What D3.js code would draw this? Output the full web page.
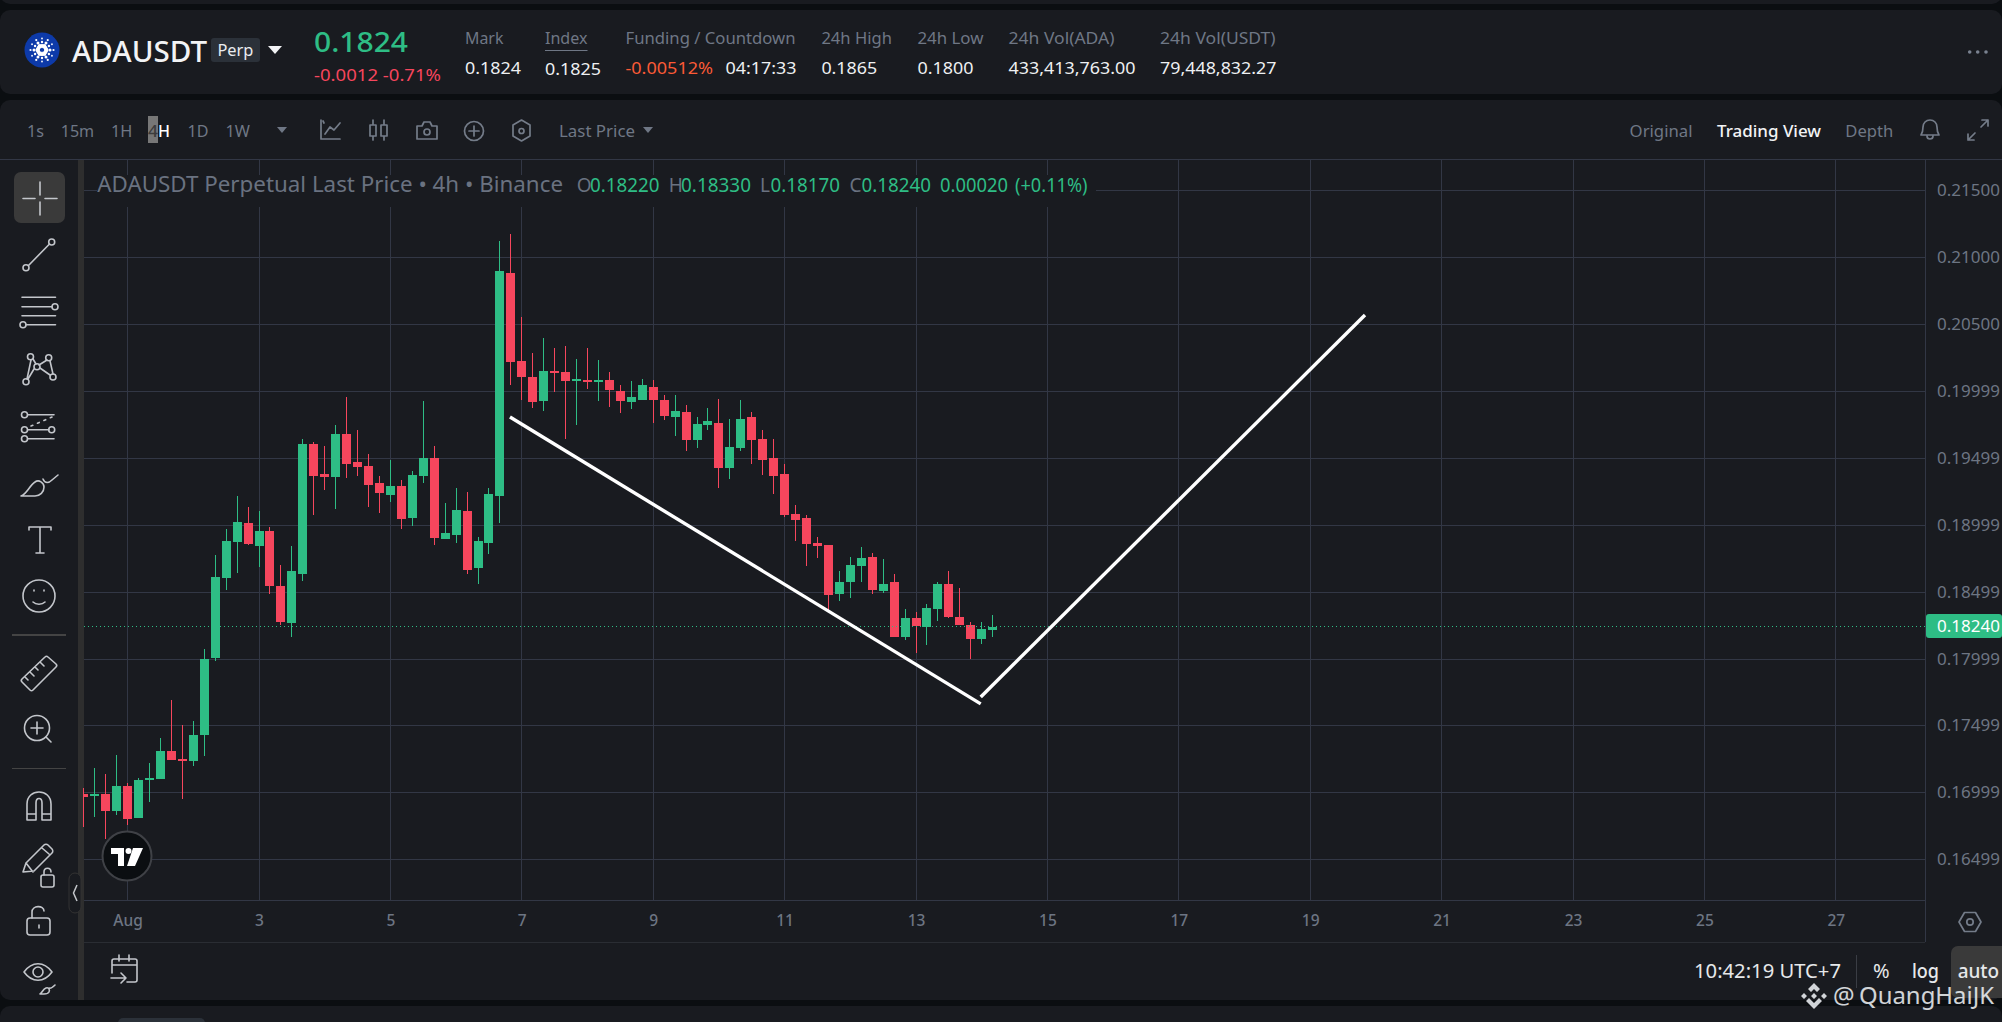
<!DOCTYPE html>
<html><head><meta charset="utf-8">
<script src="https://cdnjs.cloudflare.com/ajax/libs/d3/7.8.5/d3.min.js"></script>
<style>
html,body{margin:0;padding:0;background:#0b0e11;overflow:hidden}
svg{display:block}
text{font-family:"Noto Sans",sans-serif}
.ic{fill:none;stroke:#c3c6cb;stroke-width:1.6;stroke-linecap:round;stroke-linejoin:round}
.gi{fill:none;stroke:#747c89;stroke-width:1.7;stroke-linecap:round;stroke-linejoin:round}
</style></head><body>
<svg id="c" width="2002" height="1022" viewBox="0 0 2002 1022"></svg>
<script>
// ---- data ----
const firstCandleDay = 1 - 4/6;         // 31 Jul 08:00
const candlesPerDay = 6;                // 4h candles
const opens = [.16995,.16980,.16995,.16868,.17054,.16815,.17099,.17107,.17316,.17256,.17241,.17435,.18010,.18606,.18875,.19018,.18845,.18958,.18547,.18271,.18636,.19607,.19383,.19361,.19681,.19472,.19442,.19316,.19226,.19294,.19055,.19368,.19502,.18898,.18928,.19107,.18681,.18868,.19219,.20883,.20226,.20107,.19927,.20151,.20144,.20077,.20084,.20069,.20084,.20003,.19920,.19935,.20032,.19935,.19808,.19845,.19637,.19749,.19764,.19428,.19577,.19808,.19644,.19502,.19383,.19085,.19055,.18868,.18853,.18487,.18577,.18696,.18763,.18510,.18577,.18166,.18308,.18241,.18375,.18562,.18316,.18256,.18151,.18220];
const highs = [.17039,.17189,.17144,.17286,.17077,.17114,.17227,.17412,.17696,.17510,.17540,.18077,.18779,.18973,.19219,.19137,.19107,.18988,.18704,.18845,.19644,.19622,.19592,.19749,.19957,.19711,.19532,.19368,.19487,.19338,.19405,.19927,.19592,.19167,.19279,.19249,.18913,.19279,.21122,.21174,.20554,.20286,.20398,.20323,.20338,.20241,.20323,.20234,.20144,.20047,.20077,.20092,.20084,.19973,.19973,.19898,.19808,.19875,.19942,.19793,.19935,.19845,.19711,.19644,.19457,.19152,.19077,.18913,.18853,.18659,.18763,.18838,.18793,.18748,.18636,.18375,.18353,.18413,.18577,.18659,.18532,.18278,.18278,.18330];
const lows = [.16749,.16823,.16659,.16838,.16764,.16815,.16935,.17107,.17249,.16957,.17204,.17278,.17988,.18517,.18644,.18853,.18689,.18487,.18256,.18166,.18584,.19077,.19264,.19122,.19353,.19368,.19137,.19092,.19174,.18973,.18995,.19316,.18853,.18898,.18868,.18636,.18562,.18786,.19018,.20047,.19935,.19875,.19853,.19995,.19644,.19749,.20017,.19927,.19883,.19838,.19868,.19935,.19764,.19786,.19666,.19555,.19577,.19711,.19279,.19346,.19555,.19457,.19376,.19234,.19062,.18883,.18696,.18756,.18353,.18435,.18457,.18577,.18487,.18495,.18166,.18144,.18047,.18107,.18286,.18308,.18256,.18003,.18114,.18170];
const closes = [.16973,.16995,.16868,.17054,.16808,.17099,.17114,.17316,.17249,.17241,.17435,.18003,.18614,.18883,.19025,.18860,.18958,.18547,.18278,.18659,.19607,.19368,.19361,.19681,.19457,.19435,.19301,.19241,.19294,.19047,.19376,.19502,.18905,.18943,.19114,.18666,.18883,.19234,.20898,.20219,.20107,.19920,.20151,.20137,.20077,.20092,.20069,.20084,.20010,.19927,.19957,.20047,.19935,.19816,.19853,.19637,.19756,.19779,.19428,.19585,.19793,.19637,.19487,.19368,.19077,.19040,.18860,.18845,.18480,.18577,.18704,.18756,.18517,.18562,.18166,.18308,.18248,.18383,.18562,.18316,.18256,.18151,.18226,.18240];
const gridPrices = [.215,.21,.205,.2,.195,.19,.185,.18,.17507,.17007,.16507];
const priceLabels = ["0.21500","0.21000","0.20500","0.19999","0.19499","0.18999","0.18499","0.17999","0.17499","0.16999","0.16499"];
const gridDays = [1,3,5,7,9,11,13,15,17,19,21,23,25,27];
const dayLabels = ["Aug","3","5","7","9","11","13","15","17","19","21","23","25","27"];
const lineA = [[6.820,.19808],[13.985,.17667]];
const lineB = [[13.985,.17719],[19.834,.20569]];
const lastPrice = .1824, lastPriceLabel = "0.18240";
const statLabels = ["Mark","Index","Funding / Countdown","24h High","24h Low","24h Vol(ADA)","24h Vol(USDT)"];
const statValues = ["0.1824","0.1825","-0.00512%","0.1865","0.1800","433,413,763.00","79,448,832.27"];
const intervals = ["1s","15m","1H","1D","1W"];

// ---- colours ----
const GREEN="#2ebd85",RED="#f6465d",PANEL="#191b20",GRID="#323745",MUTED="#6f7785",AXIS="#6d7583";

const svg=d3.select("#c");
const floorI=(a,b)=>t=>Math.floor(a+(b-a)*t);
const x=d3.scaleLinear().domain([1,27]).range([127.6,1835.8]);
const y=d3.scaleLinear().domain([.21,.165]).range([257.3,860.3]);
const xG=x.copy().interpolate(floorI), yG=y.copy().interpolate(floorI);

const T=(s,px,py,size,fill,o={})=>{const t=svg.append("text").attr("x",px).attr("y",py).attr("font-size",size).attr("fill",fill)
  .attr("font-weight",o.w||400).attr("text-anchor",o.a||"start").text(s);
  if(o.tl)t.attr("textLength",o.tl).attr("lengthAdjust","spacingAndGlyphs");return t;};
const R=(px,py,w,h,fill,r=0)=>svg.append("rect").attr("x",px).attr("y",py).attr("width",w).attr("height",h).attr("fill",fill).attr("rx",r);

// ---- panels ----
R(0,-20,2002,24,PANEL,10);
R(0,10,2002,84,PANEL,10);
R(0,100,2002,900,PANEL,10);
R(0,1006,2002,40,PANEL,10);
R(118,1018,87,10,"#2b3139",5);
R(78,160,6,840,"#2e2e2e");
R(0,159,2002,1,GRID);

// ---- grid ----
const W=1925-84;
const grid=svg.append("g");
grid.append("g").attr("transform","translate(1925,0)").call(d3.axisLeft(yG).tickValues(gridPrices).tickSize(W).tickFormat("").offset(.5));
grid.append("g").attr("transform","translate(0,900)").call(d3.axisTop(xG).tickValues(gridDays).tickSize(741).tickFormat("").offset(.5));
grid.selectAll(".domain").remove();
grid.selectAll("line").attr("stroke",GRID).attr("stroke-width",1);
R(1925,160,1,782,GRID);
R(84,900,1841,1,GRID);
R(84,942,1841,1,"#2a2d33");

// ---- legend mask ----
R(97,175,999,32,PANEL);

// ---- candles ----
const candles=d3.range(opens.length).map(i=>({d:firstCandleDay+i/candlesPerDay,o:opens[i],h:highs[i],l:lows[i],c:closes[i]}));
svg.append("clipPath").attr("id","cl").append("rect").attr("x",83).attr("y",160).attr("width",1842).attr("height",740);
const cg=svg.append("g").attr("clip-path","url(#cl)");
const col=d=>d.c>=d.o?GREEN:RED;
cg.selectAll(".w").data(candles).join("rect").attr("class","w")
  .attr("x",d=>Math.floor(x(d.d))).attr("width",1)
  .attr("y",d=>Math.round(y(d.h))).attr("height",d=>Math.round(y(d.l))-Math.round(y(d.h))).attr("fill",col);
cg.selectAll(".b").data(candles).join("rect").attr("class","b")
  .attr("x",d=>Math.floor(x(d.d))-4).attr("width",9)
  .attr("y",d=>Math.round(y(Math.max(d.o,d.c)))).attr("height",d=>Math.max(1,Math.round(y(Math.min(d.o,d.c)))-Math.round(y(Math.max(d.o,d.c))))).attr("fill",col);

// last price line
svg.append("line").attr("x1",84).attr("x2",1925).attr("y1",Math.round(y(lastPrice))-.5).attr("y2",Math.round(y(lastPrice))-.5)
  .attr("stroke",GREEN).attr("stroke-width",1).attr("stroke-dasharray","1 3");

// white drawn lines
const lg=d3.line().x(d=>x(d[0])).y(d=>y(d[1]));
[lineA,lineB].forEach(l=>svg.append("path").attr("d",lg(l)).attr("fill","none").attr("stroke","#fff").attr("stroke-width",3.4));

// ---- axes ----
const ya=svg.append("g").attr("transform","translate(1925,0)").call(d3.axisRight(y).tickValues(gridPrices).tickSize(0).tickPadding(12).tickFormat((d,i)=>priceLabels[i]));
ya.select(".domain").remove();
ya.selectAll("text").attr("font-size",16.5).attr("fill",AXIS).attr("font-family",'"Noto Sans",sans-serif').attr("textLength",63).attr("lengthAdjust","spacingAndGlyphs");
const xa=svg.append("g").attr("transform","translate(0,900)").call(d3.axisBottom(x).tickValues(gridDays).tickSize(0).tickPadding(15).tickFormat((d,i)=>dayLabels[i]));
xa.select(".domain").remove();
xa.selectAll("text").attr("font-size",15.5).attr("fill",AXIS).attr("font-weight",500).attr("font-family",'"Noto Sans",sans-serif');

// price tag
R(1926,614,76,24,GREEN,3);
T(lastPriceLabel,1937,631.5,16.5,"#fff",{tl:63});

// ---- header ----
svg.append("circle").attr("cx",42).attr("cy",50).attr("r",17.5).attr("fill","#0d3aa9");
d3.range(6).forEach(k=>{[[4.2,2.3],[8,1.5],[11.5,1.1]].forEach(([r0,s])=>{[0,30].forEach(off=>{
  const a=(k*60+off)*Math.PI/180; svg.append("circle").attr("cx",42+Math.cos(a)*r0).attr("cy",50+Math.sin(a)*r0).attr("r",off?s*.8:s).attr("fill","#fff");});});});
T("ADAUSDT",72,62,28,"#f2f3f5",{w:500,tl:135});
R(211,38,49,24,"#2b3139",3);
T("Perp",217.4,56,17,"#eaecef",{tl:36});
svg.append("path").attr("d","M268 46h14l-7 8z").attr("fill","#f2f3f5");
T("0.1824",314,52,27,GREEN,{w:500,tl:94});
T("-0.0012 -0.71%",314,81,16.5,RED,{tl:127});
const sx=[465,545,625.5,821.4,917.4,1008.5,1160];
const statLabelW=[38.4,42.5,170,70.5,66,106,115.6], statValueW=[56,56,87.5,55.8,56,127,116.5];
statLabels.forEach((s,i)=>T(s,sx[i],44,16,MUTED,{tl:statLabelW[i]}));
R(545,50,42.5,1,MUTED);
statValues.forEach((s,i)=>T(s,sx[i],i==1?75:74,16,i==2?"#fb5a36":"#eef0f2",{tl:statValueW[i]}));
T("04:17:33",725.5,74,16,"#eef0f2",{tl:71});
[1969.7,1977.7,1986].forEach(c=>svg.append("circle").attr("cx",c).attr("cy",52).attr("r",1.8).attr("fill","#7a8290"));

// ---- toolbar ----
const ivx=[27,60.7,111,187.5,225.4], ivw=[17,33.5,21.4,21,24.5];
intervals.forEach((s,i)=>T(s,ivx[i],136.5,16.5,MUTED,{tl:ivw[i]}));
R(148,116,10,27,"#777");
T("4",148,136.5,16.5,"#3c3c3c",{w:500,tl:10});
T("H",158,136.5,16.5,"#fff",{w:500,tl:12});
svg.append("path").attr("d","M277 127h10l-5 6z").attr("fill",MUTED);
const gi=(d)=>svg.append("path").attr("class","gi").attr("d",d);
gi("M321 120v19h19M325 134l5-7 4 3 6-7M323 121l1 2");
gi("M370 125h6v11h-6zM373 120v5M373 136v4M381 125h6v11h-6zM384 120v5M384 136v4");
gi("M417 126h5l2-4h6l2 4h5v13h-20z");svg.append("circle").attr("class","gi").attr("cx",427).attr("cy",132).attr("r",3);
svg.append("circle").attr("class","gi").attr("cx",474).attr("cy",131).attr("r",9.5);gi("M474 126v10M469 131h10");
gi("M521.5 120l8.5 5v11l-8.5 5-8.5-5v-11z");svg.append("circle").attr("class","gi").attr("cx",521.5).attr("cy",131).attr("r",2.5);
T("Last Price",559,136.5,16.5,MUTED,{tl:76});
svg.append("path").attr("d","M643 127h10l-5 6z").attr("fill",MUTED);
T("Original",1629.6,136.5,16.5,MUTED,{tl:62.9});
T("Trading View",1717,136.5,16.5,"#f2f3f5",{w:500,tl:104});
T("Depth",1845.3,136.5,16.5,MUTED,{tl:48});
gi("M1921 135c2-3 2-5 2-8 0-4 3-7 7-7s7 3 7 7c0 3 0 5 2 8zM1927 136c0 4 6 4 6 0");
gi("M1968 140l7-7M1968 134v6h6M1988 120l-7 7M1988 126v-6h-6");

// ---- chart legend ----
T("ADAUSDT Perpetual Last Price • 4h • Binance",97.3,192,22.5,"#6a7280",{tl:465.7});
const lp=[["O",576.8],["H",668.7],["L",760],["C",849.5]], lv=[["0.18220",590,69.5],["0.18330",681,70],["0.18170",770.5,69.5],["0.18240",861.5,69.5],["0.00020",940,68],["(+0.11%)",1015,72.5]];
lp.forEach(([s,p])=>T(s,p,192,19,"#6a7280"));
lv.forEach(([s,p,w])=>T(s,p,192,19,GREEN,{tl:w}));

// ---- bottom bar ----
T("10:42:19 UTC+7",1694,978,19,"#e6e8ea",{tl:147});
R(1856,955,1,33,"#3a3d44");
T("%",1873,978,20,"#e6e8ea");
T("log",1912,978,19,"#e6e8ea",{w:500,tl:27});
R(1951,946,60,52,"#3a3a3a",7);
T("auto",1957.7,978,19,"#e6e8ea",{w:500,tl:41.5});
gi("M1959 922l5.5-9.5h11l5.5 9.5-5.5 9.5h-11z").attr("stroke","#c3c6cb");
svg.append("circle").attr("class","gi").attr("cx",1970).attr("cy",922).attr("r",3.2).attr("stroke","#c3c6cb");

// ---- watermark ----
const wm=svg.append("g").attr("fill","#eceff2").attr("opacity",.88);
wm.append("path").attr("d","M1814 983l6 6-3 3-3-3-3 3-3-3zM1804 993l3 3-3 3-3-3zM1824 993l3 3-3 3-3-3zM1814 993l3 3-3 3-3-3zM1806 1001l3-3 5 5 5-5 3 3-8 8z");
T("@",1833,1004,24,"#eceff2").attr("opacity",.88);
T("QuangHaiJK",1859,1004,24,"#eceff2",{tl:135}).attr("opacity",.88);

// ---- left tools ----
R(14,172,51,51,"#3a3a3a",7);
const ic=d=>svg.append("path").attr("class","ic").attr("d",d);
const cir=(a,b,r)=>svg.append("circle").attr("class","ic").attr("cx",a).attr("cy",b).attr("r",r);
ic("M40 182v13M40 202v13M23 198.5h12M45 198.5h12");
ic("M28.5 265.5L49.5 244");cir(26,267.7,3);cir(51.7,242,3);
ic("M22 297.3h33.5M22 306.7h30M22 315.7h33.5M26 324.7h29.5");cir(55,306.7,3);cir(23,324.7,3);
ic("M31 360L27 379M33 359L36 364M47 360L39 365M50 361L53 374M34 369L28 379M40 368L50 375");cir(30.5,356.7,3);cir(48.7,357.7,3);cir(37,366.7,3);cir(26,381.7,3);cir(53,377,3);
ic("M28 414.7h26M28 429.7h21M28 438.7h26");cir(24.5,414.7,3);cir(24.5,429.7,3);cir(51.7,429.7,3);cir(24.5,438.7,3);
svg.append("path").attr("class","ic").attr("d","M31 426L52 417").attr("stroke-dasharray","2 5");
ic("M21 496c6-2 8-10 14-14 4-3 9 1 9 5 0 5-4 9-9 9zM43 479c2 5 6 4 9 1l6-5");
ic("M29 530v-3h22v3M40 527v26M36 553h8");
cir(39,596,16);ic("M33 602c3 3 9 3 12 0M34 590v1M44 590v1");
R(12,634,54,2,"#444");
ic("M22 679l23-22c1-1 2-1 3 0l8 7c1 1 1 2 0 3l-23 23c-1 1-2 1-3 0l-8-8c-1-1-1-2 0-3zM30 672l4 4M35 667l3 3M40 662l4 4M25 677l3 3");
cir(37,728,12.5);ic("M37 722v12M31 728h12M46 737l5 5");
R(12,768,54,1,"#444");
ic("M27 820v-16c0-16 24-16 24 0v16h-9v-17c0-6-6-6-6 0v17zM27 814h9M42 814h9");
ic("M23 872l3-9 18-18c1-1 3-1 4 0l4 4c1 1 1 3 0 4l-18 18zM26 863l7 9M42 848l7 6");
R(41,875,13,12,"none",2).attr("stroke","#c3c6cb").attr("stroke-width",1.6);ic("M44 875v-3c0-5 7-5 7 0");
R(27,918,23,17,"none",3).attr("stroke","#c3c6cb").attr("stroke-width",1.6);ic("M32 918v-6c0-7 12-7 12-1M39 925v3");
ic("M24 972c8-11 20-11 28 0-8 11-20 11-28 0z");cir(38,972,5);
ic("M40 994c2-1 3-5 6-6 3-1 4 2 3 4-1 2-3 2-5 2zM49 988c2 1 4-1 6-3");
R(69,873,12,40,PANEL,6).attr("stroke","#333");
svg.append("path").attr("d","M77 885l-3.5 8 3.5 8").attr("fill","none").attr("stroke","#c3c6cb").attr("stroke-width",1.5);

// ---- tradingview badge ----
svg.append("circle").attr("cx",127).attr("cy",856).attr("r",24.5).attr("fill","#0b0e11").attr("stroke","#3f4146").attr("stroke-width",2);
svg.append("path").attr("d","M111 848h13v18h-6v-12h-7zM133 848h10l-8 18h-8z").attr("fill","#fff");
svg.append("circle").attr("cx",128.5).attr("cy",851).attr("r",3).attr("fill","#fff");

// ---- calendar icon ----
ic("M112 973v-12c0-1 1-2 2-2h21c1 0 2 1 2 2v19c0 1-1 2-2 2h-8M112 965h25M119 955v6M129 955v6M111 978h15M121 973l5 5-5 5");
</script>
</body></html>
